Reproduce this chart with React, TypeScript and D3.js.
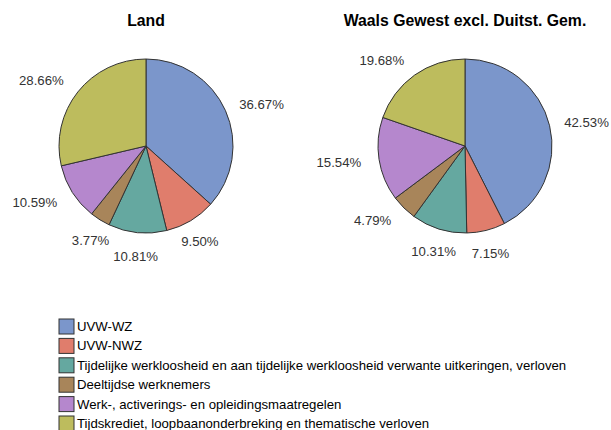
import * as d3 from "d3";

const CATEGORIES = [
  "UVW-WZ",
  "UVW-NWZ",
  "Tijdelijke werkloosheid en aan tijdelijke werkloosheid verwante uitkeringen, verloven",
  "Deeltijdse werknemers",
  "Werk-, activerings- en opleidingsmaatregelen",
  "Tijdskrediet, loopbaanonderbreking en thematische verloven",
];
const COLORS = ["#7b96cb", "#e07d6c", "#65a8a0", "#a8855a", "#b587cd", "#bdbc5d"];

const LAND = [36.67, 9.5, 10.81, 3.77, 10.59, 28.66];
const WAALS = [42.53, 7.15, 10.31, 4.79, 15.54, 19.68];

const TITLES = ["Land", "Waals Gewest excl. Duitst. Gem."];

const WIDTH = 611;
const HEIGHT = 430;
const RADIUS = 87;
const CENTERS = [146, 465];
const CY = 146;
const FONT = "Arial, 'Liberation Sans', sans-serif";

const pie = d3.pie<number>().sort(null).value((d) => d);
const arc = d3.arc<d3.PieArcDatum<number>>().innerRadius(0).outerRadius(RADIUS);

const Pie = ({ cx, values, title }: { cx: number; values: number[]; title: string }) => {
  const arcs = pie(values);
  return (
    <g>
      <text
        x={cx}
        y={20}
        textAnchor="middle"
        dominantBaseline="central"
        fontWeight="bold"
        fontSize={15.8}
        fontFamily={FONT}
        fill="#000"
      >
        {title}
      </text>
      <g transform={`translate(${cx},${CY})`}>
        {arcs.map((a, i) => (
          <path key={i} d={arc(a) ?? ""} fill={COLORS[i]} stroke="#333" strokeWidth={1} />
        ))}
        {arcs.map((a, i) => {
          const mid = (a.startAngle + a.endAngle) / 2;
          const sx = Math.sin(mid);
          const cy = -Math.cos(mid);
          let anchor = "middle";
          if (sx > 0.55) anchor = "start";
          else if (sx < -0.55) anchor = "end";
          const r = RADIUS + (anchor === "start" ? 15 : 18);
          const x = sx * r;
          const y = cy * r + (anchor === "middle" ? cy * 6 : 0);
          return (
            <text
              key={i}
              x={x}
              y={y}
              textAnchor={anchor}
              dominantBaseline="central"
              fontSize={13.2}
              fontFamily={FONT}
              fill="#333"
            >
              {values[i].toFixed(2)}%
            </text>
          );
        })}
      </g>
    </g>
  );
};

export default function App() {
  const legendY = d3.scaleLinear().domain([0, 1]).range([319, 338.4]);
  return (
    <svg
      width={WIDTH}
      height={HEIGHT}
      style={{ position: "absolute", left: 0, top: 0, background: "#fff" }}
    >
      <Pie cx={CENTERS[0]} values={LAND} title={TITLES[0]} />
      <Pie cx={CENTERS[1]} values={WAALS} title={TITLES[1]} />
      <g>
        {CATEGORIES.map((c, i) => (
          <g key={c} transform={`translate(59,${legendY(i)})`}>
            <rect width={15} height={15} fill={COLORS[i]} stroke="#333" strokeWidth={1} />
            <text
              x={18}
              y={7.5}
              dominantBaseline="central"
              fontSize={13.2}
              fontFamily={FONT}
              fill="#000"
            >
              {c}
            </text>
          </g>
        ))}
      </g>
    </svg>
  );
}
